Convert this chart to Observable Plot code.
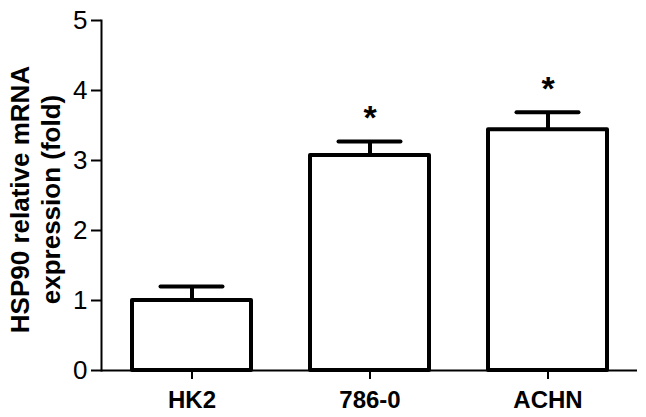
<!DOCTYPE html>
<html>
<head>
<meta charset="utf-8">
<script src="https://cdn.jsdelivr.net/npm/d3@7"></script>
<script src="https://cdn.jsdelivr.net/npm/@observablehq/plot@0.6"></script>
<style>
  html, body { margin: 0; padding: 0; background: #fff; }
  #chart svg { display: block; }
</style>
</head>
<body>
<div id="chart"></div>
<script>
const categories = ["HK2", "786-0", "ACHN"];
const means = [1.0, 3.07, 3.44];
const errors = [0.2, 0.2, 0.25];
const significant = [false, true, true];
const yTicks = [0, 1, 2, 3, 4, 5];
const yLabel = "HSP90 relative mRNA\nexpression (fold)";

const data = categories.map((c, i) => ({
  cat: c, mean: means[i], err: errors[i], top: means[i] + errors[i], sig: significant[i]
}));

const font = "'Liberation Sans', Arial, Helvetica, sans-serif";

const plot = Plot.plot({
  width: 646,
  height: 417,
  marginLeft: 101,
  marginRight: 9,
  marginTop: 20,
  marginBottom: 47,
  style: { fontFamily: font, background: "#fff", color: "#000" },
  x: { domain: categories, paddingInner: 0.333, paddingOuter: 0.1667, label: null },
  y: { domain: [0, 5], label: null },
  marks: [
    Plot.axisY({ ticks: yTicks, tickSize: 10, tickPadding: 4, fontSize: 26, strokeWidth: 2, label: null, tickFormat: d => d }),
    Plot.axisX({ tickSize: 9, tickPadding: 11, fontSize: 24, fontWeight: "bold", strokeWidth: 2, label: null }),
    Plot.frame({ anchor: "left", strokeWidth: 2 }),
    Plot.ruleX(data, { x: "cat", y1: "mean", y2: "top", strokeWidth: 4 }),
    Plot.tickY(data, { x: "cat", y: "top", strokeWidth: 4, strokeLinecap: "round", insetLeft: 28.5, insetRight: 28.5 }),
    Plot.barY(data, { x: "cat", y: "mean", fill: "white", stroke: "black", strokeWidth: 4, strokeLinejoin: "round" }),
    Plot.ruleY([0], { strokeWidth: 2 }),
    Plot.text(data.filter(d => d.sig), { x: "cat", y: "top", text: () => "*", dy: -23, fontSize: 34, fontWeight: "bold" }),
    Plot.text([yLabel], { frameAnchor: "left", text: d => d, rotate: -90, dx: -67, dy: 4, fontSize: 26, fontWeight: "bold", lineHeight: 1.2, textAnchor: "middle" })
  ]
});

document.getElementById("chart").appendChild(plot);
</script>
</body>
</html>
